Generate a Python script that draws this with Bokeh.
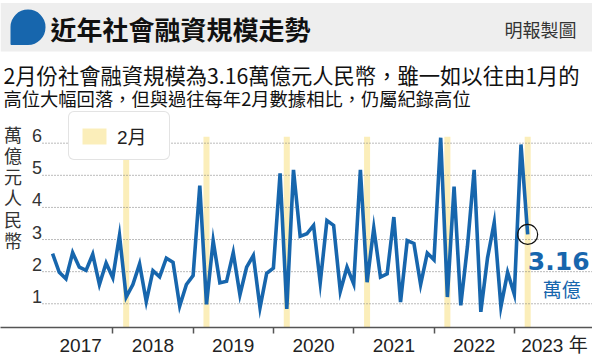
import pandas as pd
from bokeh.plotting import figure
from bokeh.models import Range1d, FixedTicker, BoxAnnotation, Legend
from bokeh.core.properties import value
from bokeh.embed import file_html
from bokeh.resources import INLINE

# ---------------- data (萬億元人民幣, monthly, Mar 2017 - Feb 2023) ----------------
months = [pr.strftime("%Y-%m") for pr in pd.period_range("2017-03", "2023-02", freq="M")]
tsf_2017 = [2.56, 1.98, 1.78, 2.59, 2.14, 2.04, 2.54, 1.60, 2.27, 1.81]
tsf_2018 = [3.13, 1.21, 1.60, 2.24, 1.07, 2.03, 1.84, 2.42, 2.29, 0.93, 1.60, 1.88]
tsf_2019 = [4.68, 0.98, 2.96, 1.65, 1.70, 2.59, 1.28, 2.14, 2.50, 0.88, 1.95, 2.11]
tsf_2020 = [5.06, 0.84, 5.17, 3.10, 3.18, 3.44, 1.66, 3.59, 3.44, 1.39, 2.14, 1.62]
tsf_2021 = [5.17, 1.67, 3.36, 1.83, 1.93, 3.70, 1.05, 2.97, 2.88, 1.60, 2.58, 2.37]
tsf_2022 = [6.17, 1.21, 4.65, 0.95, 2.79, 5.17, 0.75, 2.43, 3.53, 0.91, 1.98, 1.30]
tsf_2023 = [5.96, 3.16]
values = tsf_2017 + tsf_2018 + tsf_2019 + tsf_2020 + tsf_2021 + tsf_2022 + tsf_2023

feb_years = [2018, 2019, 2020, 2021, 2022, 2023]
year_labels = ["2017", "2018", "2019", "2020", "2021", "2022", "2023 年"]
year_bounds = [2018, 2019, 2020, 2021, 2022, 2023]
y_ticks = [1, 2, 3, 4, 5, 6]
band_top = 6.2
band_label = "2月"

title_text = "近年社會融資規模走勢"
credit_text = "明報製圖"
sub_line1 = "2月份社會融資規模為3.16萬億元人民幣，雖一如以往由1月的"
sub_line2 = "高位大幅回落，但與過往每年2月數據相比，仍屬紀錄高位"
y_title = "萬億元人民幣"
unit_text = "萬億"

# month -> position on a year axis (value plotted at month end)
xs = [int(m[:4]) + int(m[5:]) / 12 for m in months]
feb_x = [y + 2 / 12 for y in feb_years]
label_pos = [2017.6] + [y + 0.5 for y in year_bounds]

# ---------------- layout helpers (pixel -> data) ----------------
def X(px):
    return 2017 + (px - 32.0) / 80.3

def Y(py):
    return (335.4 - py) / 32.12

W, H = 592, 361
AXIS_H = 34
BLUE = "#1766ad"
YELLOW = "#fbeeba"
CJK = "Noto Sans CJK TC"
LAT = "Liberation Sans, Noto Sans CJK TC"

p = figure(width=W, height=H,
           x_range=Range1d(X(0), X(W)), y_range=Range1d(Y(H - AXIS_H), Y(0)),
           y_axis_location=None, toolbar_location=None, output_backend="svg",
           min_border_left=0, min_border_right=0, min_border_top=0, min_border_bottom=AXIS_H)
p.outline_line_color = None
p.grid.visible = False
p.background_fill_color = "white"
p.border_fill_color = "white"

# header band and blue mark
p.add_layout(BoxAnnotation(left=X(0), right=X(W), top=Y(2.5), bottom=Y(51),
                           fill_color="#eeeeee", fill_alpha=1, line_color=None, level="underlay"))
blob = BoxAnnotation(left=X(10), right=X(45), top=Y(9), bottom=Y(44.5),
                     fill_color=BLUE, fill_alpha=1, line_color=None)
try:
    blob.border_radius = dict(top_left=18, top_right=18, bottom_right=18, bottom_left=1)
except Exception:
    pass
p.add_layout(blob)

p.text(x=[X(50)], y=[Y(28)], text=[title_text], text_font=value(CJK), text_font_size="26px",
       text_font_style="bold", text_baseline="middle", text_align="left", text_color="#111111")
p.text(x=[X(576)], y=[Y(28)], text=[credit_text], text_font=value(CJK), text_font_size="18px",
       text_baseline="middle", text_align="right", text_color="#333333")
p.text(x=[X(3)], y=[Y(73.5)], text=[sub_line1], text_font=value(CJK), text_font_size="21.3px",
       text_baseline="middle", text_align="left", text_color="#111111")
p.text(x=[X(3)], y=[Y(97.5)], text=[sub_line2], text_font=value(CJK), text_font_size="18.3px",
       text_baseline="middle", text_align="left", text_color="#111111")

# vertical y title
p.text(x=[X(12.5)], y=[Y(120.5)], text=["\n".join(y_title)], text_font=value(CJK),
       text_font_size="18px", text_line_height=0.813, text_baseline="top", text_align="center",
       text_color="#333333")

# February bands (legend item)
p.vbar(x=feb_x, width=0.9 / 12, bottom=Y(H - AXIS_H), top=band_top, fill_color=YELLOW,
       line_color=None, legend_label=band_label)

# dotted gridlines + tick labels (labels sit just above their line)
n = len(y_ticks)
p.segment(x0=[X(42)] * n, x1=[X(W)] * n, y0=y_ticks, y1=y_ticks,
          line_color="#777777", line_width=1, line_dash="1 2")
p.text(x=[X(41.5)] * n, y=y_ticks, text=[str(t) for t in y_ticks], text_font=value(LAT),
       text_font_size="18px", text_baseline="middle", text_align="right",
       y_offset=-7.5, text_color="#333333")

# main series
p.line(xs, values, line_color=BLUE, line_width=3.6, line_join="miter")
p.scatter(x=[xs[-1]], y=[values[-1]], size=20, fill_color=None, line_color="#111111", line_width=1.2)
p.text(x=[xs[-1]], y=[values[-1]], text=[f"{values[-1]:.2f}"], x_offset=31, y_offset=27,
       text_font=value("DejaVu Sans"), text_font_style="bold", text_font_size="25px",
       text_align="center", text_baseline="middle", text_color=BLUE)
p.text(x=[xs[-1]], y=[values[-1]], text=[unit_text], x_offset=34, y_offset=54,
       text_font=value(CJK), text_font_size="19px",
       text_align="center", text_baseline="middle", text_color=BLUE)

# x axis
ax = p.xaxis[0]
ax.ticker = FixedTicker(ticks=label_pos, minor_ticks=year_bounds)
ax.major_label_overrides = {pos: lab for pos, lab in zip(label_pos, year_labels)}
ax.major_tick_in = 0
ax.major_tick_out = 0
ax.minor_tick_in = 0
ax.minor_tick_out = 6
ax.axis_line_color = "#555555"
ax.axis_line_width = 1.5
ax.minor_tick_line_color = "#555555"
ax.minor_tick_line_width = 1.5
ax.major_label_text_font = LAT
ax.major_label_text_font_size = "19px"
ax.major_label_text_color = "#222222"
ax.major_label_standoff = 1

# legend
leg = p.legend[0]
leg.location = (68, 167)
leg.padding = 10
leg.margin = 0
leg.spacing = 0
leg.glyph_width = 30
leg.glyph_height = 20
leg.label_standoff = 8
leg.label_width = 42
leg.label_text_font = LAT
leg.label_text_font_size = "19px"
leg.label_text_color = "#222222"
leg.border_line_color = "#c8c8c8"
leg.border_line_width = 1
leg.background_fill_color = "white"
leg.background_fill_alpha = 1
if "border_radius" in Legend.properties():
    leg.border_radius = 6

open("out.html", "w").write(file_html(p, INLINE))
